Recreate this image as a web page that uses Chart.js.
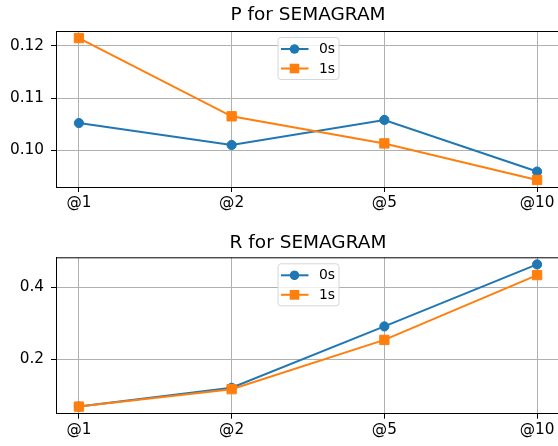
<!DOCTYPE html>
<html>
<head>
<meta charset="utf-8">
<script src="https://cdn.jsdelivr.net/npm/chart.js@4.4.0/dist/chart.umd.min.js"></script>
<style>
  html, body { margin: 0; padding: 0; background: #fff; }
  body { width: 558px; height: 446px; overflow: hidden; position: relative; }
  canvas { position: absolute; left: 0; }
  #pChart { top: 0; }
  #rChart { top: 223px; }
</style>
</head>
<body>
<canvas id="pChart" width="575" height="223"></canvas>
<canvas id="rChart" width="575" height="223"></canvas>
<script>
// data
const xLabels = ['@1', '@2', '@5', '@10'];
const seriesNames = ['0s', '1s'];
const p0s = [0.1052, 0.1010, 0.1058, 0.0959];
const p1s = [0.1215, 0.1065, 0.1013, 0.0943];
const r0s = [0.0689, 0.1210, 0.2912, 0.4631];
const r1s = [0.0689, 0.1172, 0.2538, 0.4335];
const pTicks = [0.10, 0.11, 0.12];
const rTicks = [0.2, 0.4];

const BLUE = '#1f77b4';
const ORANGE = '#ff7f0e';
Chart.defaults.font.family = "'DejaVu Sans', sans-serif";
Chart.defaults.color = '#000';

// matplotlib-style 5% margins
function range(a, b) {
    const all = a.concat(b);
    const lo = Math.min(...all), hi = Math.max(...all);
    const m = (hi - lo) * 0.05;
    return [lo - m, hi + m];
}

// title, top spine and legend box inside the axes
const frameAndLegend = {
    id: 'frameAndLegend',
    afterDraw(chart, args, opts) {
        const ctx = chart.ctx, a = chart.chartArea;
        ctx.save();

        ctx.fillStyle = '#000';
        ctx.font = "18.5px 'DejaVu Sans'";
        ctx.textAlign = 'center';
        ctx.textBaseline = 'alphabetic';
        ctx.fillText(opts.title, (a.left + a.right) / 2, opts.titleY);
        ctx.textAlign = 'left';

        ctx.strokeStyle = '#000';
        ctx.lineWidth = 1;
        ctx.beginPath();
        ctx.moveTo(a.left, a.top + 0.5);
        ctx.lineTo(a.right, a.top + 0.5);
        ctx.stroke();

        const w = 61, h = 42;
        const bx = (a.left + a.right) / 2 - w / 2;
        const by = a.top + 6;
        ctx.beginPath();
        ctx.roundRect(bx + 0.5, by + 0.5, w, h, 3);
        ctx.fillStyle = 'rgba(255,255,255,0.8)';
        ctx.fill();
        ctx.strokeStyle = '#d6d6d6';
        ctx.stroke();

        chart.data.datasets.forEach((ds, i) => {
            const y = by + 12 + i * 19.5;
            ctx.strokeStyle = ds.borderColor;
            ctx.lineWidth = 2;
            ctx.beginPath();
            ctx.moveTo(bx + 3.5, y);
            ctx.lineTo(bx + 31, y);
            ctx.stroke();
            ctx.fillStyle = ds.borderColor;
            Chart.helpers.drawPoint(ctx, {pointStyle: ds.pointStyle, radius: ds.pointRadius, borderWidth: 0}, bx + 17, y);
            ctx.fill();
            ctx.fillStyle = '#000';
            ctx.font = "13.9px 'DejaVu Sans'";
            ctx.textBaseline = 'middle';
            ctx.fillText(ds.label, bx + 41.5, y + 0.5);
        });
        ctx.restore();
    }
};

function makeChart(id, title, s0, s1, yTicks, decimals, areaTop, titleY, xHeight) {
    const yr = range(s0, s1);
    const toPts = arr => arr.map((v, i) => ({x: i, y: v}));
    return new Chart(document.getElementById(id), {
        type: 'line',
        data: {
            datasets: [
                { label: seriesNames[0], data: toPts(s0), borderColor: BLUE, backgroundColor: BLUE,
                  borderWidth: 2, pointStyle: 'circle', pointRadius: 4.6, pointBorderWidth: 1,
                  pointBorderColor: BLUE, pointBackgroundColor: BLUE, order: 1 },
                { label: seriesNames[1], data: toPts(s1), borderColor: ORANGE, backgroundColor: ORANGE,
                  borderWidth: 2, pointStyle: 'rect', pointRadius: 6.6, pointBorderWidth: 1,
                  pointBorderColor: ORANGE, pointBackgroundColor: ORANGE, order: 0 }
            ]
        },
        options: {
            responsive: false,
            animation: false,
            devicePixelRatio: 1,
            layout: { padding: { left: 0, right: 15, top: areaTop, bottom: 0 } },
            plugins: {
                legend: { display: false },
                tooltip: { enabled: false },
                title: { display: false },
                frameAndLegend: { title: title, titleY: titleY }
            },
            scales: {
                x: {
                    type: 'linear', min: -0.15, max: 3.15,
                    afterBuildTicks: s => { s.ticks = xLabels.map((_, i) => ({value: i})); },
                    afterFit: s => { s.height = xHeight; },
                    ticks: { callback: v => xLabels[v], font: { size: 15.3 }, padding: 2, maxRotation: 0 },
                    grid: { color: '#b0b0b0', lineWidth: 1, tickColor: '#000', tickLength: 5, tickWidth: 1 },
                    border: { color: '#000', width: 1 }
                },
                y: {
                    min: yr[0], max: yr[1],
                    afterBuildTicks: s => { s.ticks = yTicks.map(v => ({value: v})); },
                    afterFit: s => { s.width = 56; },
                    ticks: { callback: v => v.toFixed(decimals), font: { size: 15.3 }, padding: 7 },
                    grid: { color: '#b0b0b0', lineWidth: 1, tickColor: '#000', tickLength: 5, tickWidth: 1 },
                    border: { color: '#000', width: 1 }
                }
            }
        },
        plugins: [frameAndLegend]
    });
}

makeChart('pChart', 'P for SEMAGRAM', p0s, p1s, pTicks, 2, 31, 19.5, 36);
makeChart('rChart', 'R for SEMAGRAM', r0s, r1s, rTicks, 1, 34.3, 25, 32.3);
</script>
</body>
</html>
